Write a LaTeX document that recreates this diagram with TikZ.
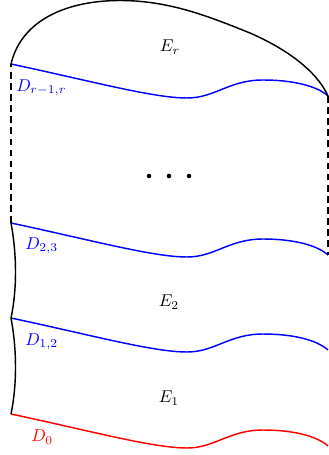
\documentclass[tikz,border=0pt]{standalone}
\begin{document}
\begin{tikzpicture}[x=0.585pt,y=-0.585pt,
  edge/.style={line width=0.85pt},
  div/.style={line width=0.85pt},
  dashedge/.style={line width=0.85pt,dash pattern=on 3.9pt off 2.6pt},
  wave/.pic={\draw[div,#1] (0,0) .. controls (80,17) and (142,34) .. (176,34) .. controls (204,34) and (218,16) .. (252,16) .. controls (282,16) and (306,22) .. (317,32);},
  lbl/.style={inner sep=0pt}]
\useasboundingbox (0,0) rectangle (328,455);
% corner coordinates
\coordinate (l0) at (11,414);
\coordinate (l1) at (11,318);
\coordinate (l2) at (11,223);
\coordinate (lr) at (11,64);
\coordinate (r2) at (328,255);
\coordinate (rr) at (328,96);
% divisors
\pic at (l0) {wave=red};
\pic at (l1) {wave=blue};
\pic at (l2) {wave=blue};
\pic at (lr) {wave=blue};
% left boundary
\draw[edge] (l0) .. controls (17,385) and (17,350) .. (l1);
\draw[edge] (l1) .. controls (17,290) and (17,255) .. (l2);
\draw[dashedge] (l2) -- (lr);
\draw[dashedge] (rr) -- (r2);
% top boundary
\draw[edge] (lr) .. controls (22,18) and (70,0.5) .. (120,0.5) .. controls (170,0.5) and (210,17) .. (250,33) .. controls (298,54) and (320,78) .. (rr);
% labels
\node[lbl] (Er) at (170,47) {$E_r$};
\node[lbl] (E2) at (169,302) {$E_2$};
\node[lbl] (E1) at (169,398) {$E_1$};
\node[lbl,anchor=west,text=blue] (Drr) at (16,88) {$D_{r-1,r}$};
\node[lbl,anchor=west,text=blue] (D23) at (25,246) {$D_{2,3}$};
\node[lbl,anchor=west,text=blue] (D12) at (25,342) {$D_{1,2}$};
\node[lbl,anchor=west,text=red] (D0) at (31,437) {$D_0$};
% dots
\foreach \x in {149,169,189} \fill (\x,176) circle[radius=2.3];
\end{tikzpicture}
\end{document}
